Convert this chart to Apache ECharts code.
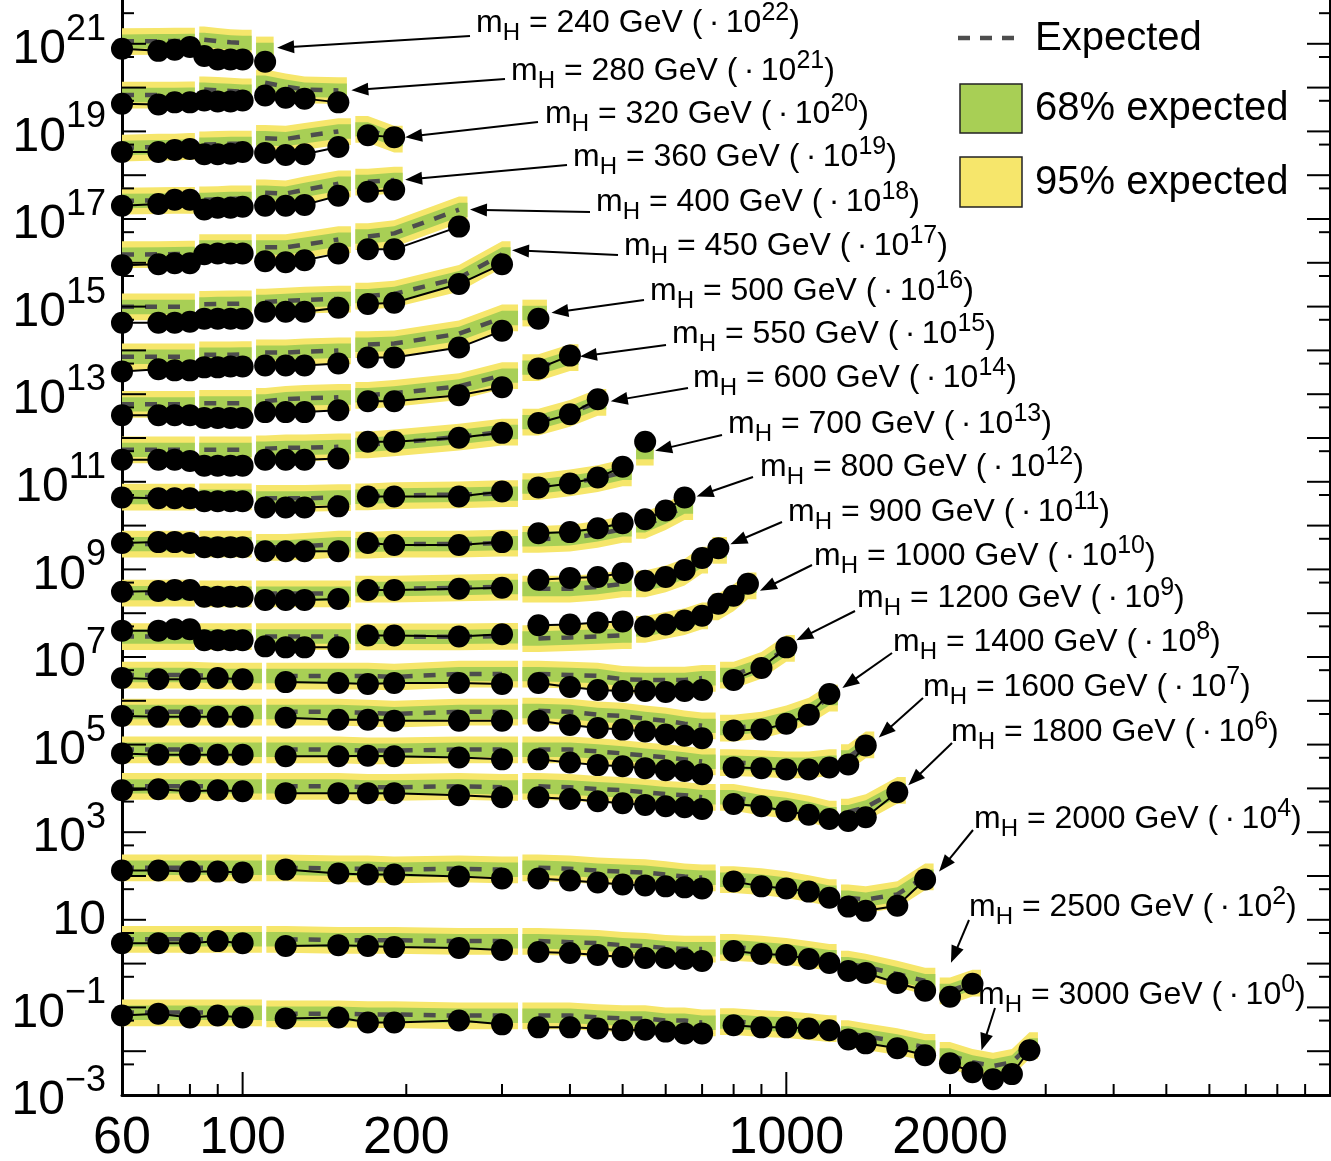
<!DOCTYPE html>
<html><head><meta charset="utf-8">
<script src="https://cdn.jsdelivr.net/npm/echarts@6/dist/echarts.min.js"></script>
<style>html,body{margin:0;padding:0;background:#fff}#c{width:1331px;height:1161px}</style>
</head><body><div id="c"></div>
<script>
// ---------------- DATA ----------------
const massPoints = [240,280,320,360,400,450,500,550,600,700,800,900,1000,1200,1400,1600,1800,2000,2500,3000];
const scaleExp   = [22,21,20,19,18,17,16,15,14,13,12,11,10,9,8,7,6,4,2,0];

// scan grids (x values, GeV), one list per analysis segment
const gridUpper = [[60,70,75,80],[85,90,95,100],[110,120,130,150],[170,190,250,300],[350,400,450,500],[550,600,650,700],[750,800,850]];
const gridLower = [[60,70,80,90,100],[120,150,170,190,250,300],[350,400,450,500,550,600,650,700],[800,900,1000,1100,1200],[1300,1400,1600,1800],[2000,2200,2400,2600,2800]];

// observed / expected limits (pb, unscaled), per segment
const obs240 = [[0.077,0.069,0.073,0.085],[0.053,0.044,0.044,0.044],[0.039]];
const exp240 = [[0.113,0.115,0.116,0.117],[0.124,0.115,0.108,0.105],[0.073]];
const obs280 = [[0.043,0.041,0.046,0.046],[0.051,0.048,0.048,0.051],[0.066,0.059,0.056,0.046]];
const exp280 = [[0.068,0.068,0.068,0.069],[0.090,0.087,0.084,0.081],[0.130,0.105,0.090,0.086]];
const obs320 = [[0.034,0.034,0.0375,0.0395],[0.030,0.030,0.031,0.034],[0.032,0.029,0.030,0.044],[0.082,0.074]];
const exp320 = [[0.042,0.044,0.044,0.046],[0.050,0.051,0.052,0.052],[0.070,0.067,0.078,0.100],[0.112,0.067]];
const obs360 = [[0.020,0.022,0.0275,0.0275],[0.0164,0.018,0.018,0.019],[0.020,0.020,0.021,0.034],[0.042,0.0465]];
const exp360 = [[0.026,0.0265,0.027,0.027],[0.0275,0.028,0.029,0.029],[0.040,0.038,0.0465,0.064],[0.0705,0.078]];
const obs400 = [[0.0088,0.0093,0.0098,0.0098],[0.0156,0.0164,0.0164,0.0164],[0.0108,0.0103,0.0114,0.0164],[0.0203,0.0203,0.067]];
const exp400 = [[0.0155,0.0156,0.0158,0.016],[0.0225,0.0225,0.0225,0.0225],[0.0225,0.0225,0.026,0.034],[0.040,0.047,0.163]];
const obs450 = [[0.0043,0.0043,0.0043,0.0045],[0.0053,0.0053,0.0053,0.0053],[0.0076,0.0076,0.0076,0.0094],[0.0115,0.0122,0.0327,0.093]];
const exp450 = [[0.0099,0.0099,0.0099,0.0099],[0.0113,0.0115,0.0116,0.0117],[0.0128,0.0135,0.0142,0.015],[0.0175,0.0195,0.0448,0.156]];
const obs500 = [[0.0033,0.0037,0.0035,0.0035],[0.0041,0.0041,0.0043,0.0043],[0.0045,0.0045,0.0045,0.0050],[0.0069,0.0069,0.0116,0.028],[0.0526]];
const exp500 = [[0.0072,0.0072,0.0072,0.0072],[0.0080,0.0080,0.0080,0.0081],[0.0089,0.0089,0.0094,0.0099],[0.0136,0.0143,0.024,0.0555],[0.072]];
const obs550 = [[0.0033,0.0033,0.0033,0.0033],[0.00285,0.00285,0.00285,0.00285],[0.0039,0.0039,0.0039,0.0043],[0.0069,0.0069,0.0095,0.0144],[0.0387,0.076]];
const exp550 = [[0.0059,0.0059,0.0059,0.0059],[0.0062,0.0062,0.0062,0.0062],[0.0069,0.0077,0.0081,0.0085],[0.0095,0.0105,0.0151,0.0268],[0.0407,0.0687]];
const obs600 = [[0.0032,0.0032,0.0032,0.0030],[0.00234,0.00234,0.00234,0.00234],[0.0032,0.0032,0.0032,0.0034],[0.0082,0.0082,0.0101,0.0131],[0.022,0.035,0.077]];
const exp600 = [[0.0054,0.0054,0.0054,0.0054],[0.0054,0.0054,0.0054,0.0054],[0.0057,0.0060,0.0060,0.0063],[0.0070,0.0078,0.0106,0.0138],[0.0232,0.0371,0.066]];
const obs700 = [[0.0044,0.0042,0.0042,0.0042],[0.0036,0.0036,0.0036,0.0036],[0.0026,0.0026,0.0026,0.00275],[0.0046,0.0046,0.0046,0.0060],[0.0074,0.0091,0.0125,0.0221],[0.082]];
const exp700 = [[0.0045,0.0045,0.0045,0.0045],[0.0046,0.0046,0.0046,0.0046],[0.0042,0.0042,0.0042,0.0044],[0.0046,0.0049,0.0051,0.0054],[0.0078,0.0096,0.0119,0.0162],[0.048]];
const obs800 = [[0.0040,0.0042,0.0042,0.0040],[0.0032,0.0032,0.0032,0.0032],[0.0026,0.0026,0.0026,0.0026],[0.0040,0.0036,0.0036,0.0042],[0.0067,0.0071,0.0087,0.0113],[0.0139,0.0222,0.0439]];
const exp800 = [[0.0038,0.0038,0.0038,0.0038],[0.0038,0.0038,0.0038,0.0038],[0.0032,0.0032,0.0034,0.0038],[0.0036,0.0038,0.0038,0.0040],[0.0049,0.0052,0.0064,0.0083],[0.0102,0.0163,0.0274]];
const obs900 = [[0.0031,0.0032,0.0034,0.0034],[0.00237,0.00237,0.00237,0.00237],[0.0020,0.0020,0.0020,0.0021],[0.0034,0.0034,0.0036,0.0038],[0.0058,0.0064,0.0067,0.0083],[0.0055,0.0067,0.0097,0.0182],[0.0306]];
const exp900 = [[0.0029,0.0029,0.0029,0.0029],[0.0028,0.0028,0.0028,0.0028],[0.0028,0.0028,0.0028,0.0028],[0.0036,0.0036,0.0038,0.0040],[0.0036,0.0036,0.0040,0.0047],[0.0047,0.0061,0.0088,0.0164],[0.0275]];
const obs1000 = [[0.0040,0.0040,0.0043,0.0043],[0.0024,0.0024,0.0024,0.0024],[0.00175,0.00166,0.00166,0.00166],[0.0031,0.0031,0.00295,0.0033],[0.0053,0.0055,0.0061,0.0065],[0.0050,0.0055,0.0068,0.0088],[0.0165,0.0251,0.0469]];
const exp1000 = [[0.00295,0.00295,0.00295,0.00295],[0.00295,0.00295,0.00295,0.00295],[0.00295,0.00295,0.00295,0.00295],[0.0029,0.0029,0.0029,0.0030],[0.00266,0.0028,0.00295,0.0031],[0.0043,0.0053,0.0065,0.0088],[0.0141,0.0226,0.0423]];
const obs1200 = [[0.0033,0.0031,0.0031,0.0033,0.0031],[0.00267,0.00254,0.00241,0.00254,0.00254,0.00241],[0.00254,0.00206,0.00176,0.00167,0.00167,0.00159,0.00167,0.00176],[0.0030,0.0056,0.0166]];
const exp1200 = [[0.0039,0.0039,0.0039,0.0037,0.0037],[0.0037,0.0037,0.0037,0.0035,0.0041,0.0041],[0.0041,0.0039,0.0037,0.0031,0.0030,0.0030,0.0030,0.0033],[0.0039,0.0065,0.0158]];
const obs1400 = [[0.0045,0.0043,0.0043,0.0043,0.0043],[0.0041,0.0037,0.0037,0.0035,0.0035,0.0035],[0.0035,0.0028,0.0024,0.0022,0.0020,0.0017,0.0016,0.0014],[0.0021,0.0022,0.0030,0.0048,0.0143]];
const exp1400 = [[0.0056,0.0056,0.0056,0.0056,0.0056],[0.0056,0.0056,0.0053,0.0050,0.0056,0.0056],[0.0059,0.0056,0.0048,0.0045,0.0039,0.0035,0.0030,0.0027],[0.0024,0.0028,0.0039,0.0059,0.0116]];
const obs1600 = [[0.0063,0.0059,0.0059,0.0059,0.0059],[0.0054,0.0054,0.0056,0.0054,0.0051,0.0046],[0.0046,0.0039,0.0034,0.0032,0.0029,0.0026,0.0025,0.0021],[0.0030,0.0029,0.0027,0.0027,0.0030],[0.0035,0.0095]];
const exp1600 = [[0.0077,0.0077,0.0077,0.0077,0.0077],[0.0077,0.0077,0.0073,0.0073,0.0077,0.0077],[0.0077,0.0077,0.0070,0.0063,0.0056,0.0051,0.0046,0.0041],[0.0039,0.0037,0.0035,0.0035,0.0039],[0.0051,0.0100]];
const obs1800 = [[0.0091,0.0096,0.0086,0.0091,0.0086],[0.0078,0.0078,0.0078,0.0078,0.0070,0.0063],[0.0063,0.0057,0.0051,0.0046,0.0042,0.0039,0.0037,0.0034],[0.0044,0.0039,0.0030,0.0025,0.0020],[0.0018,0.0022,0.0082]];
const exp1800 = [[0.0112,0.0112,0.0112,0.0112,0.0112],[0.0112,0.0112,0.0106,0.0106,0.0112,0.0106],[0.0112,0.0106,0.0096,0.0091,0.0082,0.0074,0.0070,0.0063],[0.0063,0.0049,0.0042,0.0034,0.0026],[0.0029,0.0037,0.0091]];
const obs2000 = [[0.0133,0.0133,0.0126,0.0126,0.0120],[0.0140,0.0114,0.0108,0.0108,0.0097,0.0088],[0.0088,0.0079,0.0071,0.0064,0.0061,0.0058,0.0055,0.0052],[0.0075,0.0058,0.0052,0.0044,0.0032],[0.0020,0.0016,0.0021,0.0083]];
const exp2000 = [[0.0155,0.0155,0.0155,0.0155,0.0155],[0.0155,0.0147,0.0147,0.0140,0.0147,0.0140],[0.0155,0.0147,0.0133,0.0126,0.0120,0.0108,0.0097,0.0092],[0.0083,0.0075,0.0064,0.0052,0.0042],[0.0032,0.0029,0.0038,0.0097]];
const obs2500 = [[0.0293,0.0293,0.0293,0.0326,0.0293],[0.0251,0.0264,0.0251,0.0238,0.0226,0.0204],[0.0184,0.0174,0.0157,0.0141,0.0134,0.0134,0.0127,0.0115],[0.0193,0.0165,0.0157,0.0127,0.0103],[0.0068,0.0061,0.0036,0.0024],[0.00175,0.00345]];
const exp2500 = [[0.0361,0.0361,0.0361,0.0361,0.0361],[0.0361,0.0343,0.0343,0.0343,0.0326,0.0326],[0.0326,0.0309,0.0293,0.0264,0.0251,0.0226,0.0215,0.0215],[0.0238,0.0215,0.0193,0.0165,0.0141],[0.0098,0.0084,0.0058,0.0040],[0.0024,0.0036]];
const obs3000 = [[0.065,0.072,0.059,0.065,0.059],[0.056,0.059,0.045,0.045,0.050,0.041],[0.035,0.035,0.033,0.030,0.031,0.028,0.0255,0.0255],[0.039,0.035,0.035,0.033,0.030],[0.0186,0.0151,0.0117,0.0081],[0.0053,0.0033,0.0023,0.0030,0.0105]];
const exp3000 = [[0.076,0.076,0.076,0.076,0.076],[0.072,0.072,0.069,0.069,0.065,0.065],[0.065,0.065,0.059,0.056,0.056,0.050,0.050,0.045],[0.048,0.043,0.041,0.037,0.033],[0.0255,0.0218,0.0168,0.0123],[0.0081,0.0056,0.0046,0.0056,0.0136]];

// expected-band edges relative to the expected limit
const band68 = [0.68, 1.45];
const band95 = [0.49, 2.0];

// axis ticks and labels
const xTickMajor = [100, 1000, 10000];
const xTickMinor = [60,70,80,90,200,300,400,500,600,700,800,900,2000,3000,4000,5000,6000,7000,8000,9000];
const xTickLabels = [60, 100, 200, 1000, 2000];
const yDecades = [-3,-2,-1,0,1,2,3,4,5,6,7,8,9,10,11,12,13,14,15,16,17,18,19,20,21];
const yLabelExps = [21,19,17,15,13,11,9,7,5,3,1,-1,-3];

// ---------------- LAYOUT / STYLE ----------------
const FONT = '"Liberation Sans", Arial, Helvetica, sans-serif';
const YELLOW = '#F6E66B', GREEN = '#A8CF55', EXPCOL = '#4D4D4D';
const X_MIN = 60, X_MAX = 10000, Y_MIN = 1e-3, Y_MAX = 1e22;

const obsList = [obs240,obs280,obs320,obs360,obs400,obs450,obs500,obs550,obs600,obs700,obs800,obs900,obs1000,obs1200,obs1400,obs1600,obs1800,obs2000,obs2500,obs3000];
const expList = [exp240,exp280,exp320,exp360,exp400,exp450,exp500,exp550,exp600,exp700,exp800,exp900,exp1000,exp1200,exp1400,exp1600,exp1800,exp2000,exp2500,exp3000];

// annotation layout: [labelLeftX, labelCenterY, tailX, tailY, targetPointIndexFromEnd, tipDx, tipDy]
const annotLayout = [
  [476, 22, 470, 36, 0, 12, -14],
  [511, 70, 505, 79, 0, 13, -12],
  [545, 113, 538, 122, 0, 11, 0],
  [573, 156, 567, 165, 0, 11, -10],
  [596, 201, 590, 212, 0, 11, -17],
  [624, 245, 618, 255, 0, 10, -14],
  [650, 290, 644, 300, 0, 13, -6],
  [672, 333, 666, 345, 0, 10, 1],
  [693, 377, 688, 388, 0, 13, 2],
  [728, 423, 722, 435, 0, 10, 9],
  [760, 466, 753, 477, 0, 12, -1],
  [788, 511, 782, 522, 0, 12, -4],
  [814, 555, 812, 565, 0, 12, 7],
  [857, 597, 855, 611, 0, 10, -7],
  [893, 641, 892, 653, 0, 13, -6],
  [923, 686, 923, 698, 0, 13, -8],
  [951, 731, 952, 743, 0, 11, -7],
  [974, 818, 973, 830, 0, 14, -8],
  [969, 906, 969, 920, 1, 1, -34],
  [978, 994, 995, 1008, 3, 9, -22]
];

// ---------------- BUILD ----------------
const rows = massPoints.map((m, r) => ({ mass: m, k: scaleExp[r], grid: r < 13 ? gridUpper : gridLower, obs: obsList[r], exp: expList[r], segs: [] }));
const segList = [];
const series = [];
rows.forEach((row, r) => {
  const f = Math.pow(10, row.k);
  const od = [], ed = [];
  row.obs.forEach((ov, s) => {
    const xs = row.grid[s].slice(0, ov.length);
    const so = ov.map(v => v * f), se = row.exp[s].map(v => v * f);
    if (s > 0) { od.push([xs[0], '-']); ed.push([xs[0], '-']); }
    xs.forEach((x, i) => { od.push([x, so[i]]); ed.push([x, se[i]]); });
    const seg = { r, s, xs, o: so, e: se };
    row.segs.push(seg); segList.push(seg);
  });
  row.obsData = od;
  series.push({ type: 'line', name: 'exp' + row.mass, data: ed, z: 3, symbol: 'none', connectNulls: false,
    lineStyle: { color: EXPCOL, width: 4.5, type: [12, 11] }, silent: true, animation: false });
  series.push({ type: 'line', name: 'obs' + row.mass, data: od, z: 4, symbol: 'circle', symbolSize: 22, showSymbol: true, showAllSymbol: true,
    connectNulls: false, itemStyle: { color: '#000' }, lineStyle: { color: '#000', width: 2 }, silent: true, animation: false });
});

function bandRender(params, api) {
  const seg = segList[params.dataIndex];
  const row = rows[seg.r];
  const n = seg.xs.length;
  const pts = seg.xs.map((x, i) => api.coord([x, seg.e[i]]));
  const GAP = 2.2, END = 8.5;
  let left, right;
  if (seg.s > 0) {
    const pv = row.segs[seg.s - 1];
    const pl = api.coord([pv.xs[pv.xs.length - 1], pv.e[pv.e.length - 1]])[0];
    left = (pl + pts[0][0]) / 2 + GAP;
  } else left = pts[0][0] - END;
  if (seg.s < row.segs.length - 1) {
    const nx = row.segs[seg.s + 1];
    const pr = api.coord([nx.xs[0], nx.e[0]])[0];
    right = (pts[n - 1][0] + pr) / 2 - GAP;
  } else right = pts[n - 1][0] + END;
  const cs = params.coordSys;
  left = Math.max(left, cs.x); right = Math.min(right, cs.x + cs.width);
  function poly(lo, hi) {
    const top = seg.xs.map((x, i) => api.coord([x, seg.e[i] * hi]));
    const bot = seg.xs.map((x, i) => api.coord([x, seg.e[i] * lo]));
    return [[left, top[0][1]]].concat(top, [[right, top[n - 1][1]], [right, bot[n - 1][1]]], bot.slice().reverse(), [[left, bot[0][1]]]);
  }
  return { type: 'group', children: [
    { type: 'polygon', shape: { points: poly(band95[0], band95[1]) }, style: { fill: YELLOW } },
    { type: 'polygon', shape: { points: poly(band68[0], band68[1]) }, style: { fill: GREEN } }
  ] };
}
series.unshift({ type: 'custom', name: 'bands', renderItem: bandRender, z: 1, silent: true, animation: false,
  data: segList.map((s, i) => [s.xs[0], s.e[0], i]), encode: { x: 0, y: 1 } });

const chart = echarts.init(document.getElementById('c'), null, { width: 1331, height: 1161 });
const axisLine = { show: true, onZero: false, lineStyle: { color: '#000', width: 3 } };
chart.setOption({
  animation: false,
  backgroundColor: '#fff',
  grid: { left: 122, right: 1, top: -8, bottom: 66 },
  xAxis: { type: 'log', logBase: 10, min: X_MIN, max: X_MAX, axisLine, axisTick: { show: false }, axisLabel: { show: false }, splitLine: { show: false } },
  yAxis: [
    { type: 'log', logBase: 10, min: Y_MIN, max: Y_MAX, axisLine, axisTick: { show: false }, axisLabel: { show: false }, splitLine: { show: false } },
    { type: 'log', logBase: 10, min: Y_MIN, max: Y_MAX, position: 'right', axisLine, axisTick: { show: false }, axisLabel: { show: false }, splitLine: { show: false } }
  ],
  series
});

// ---------------- ticks, labels, legend, annotations ----------------
const toPx = (x, y) => chart.convertToPixel({ xAxisIndex: 0, yAxisIndex: 0 }, [x, y]);
const G = [];
const seg = (x1, y1, x2, y2, w) => G.push({ type: 'line', silent: true, z: 100, shape: { x1, y1, x2, y2 }, style: { stroke: '#000', lineWidth: w || 2 } });
xTickMajor.forEach(v => { const p = toPx(v, Y_MIN); seg(p[0], p[1], p[0], p[1] - 23); });
xTickMinor.forEach(v => { const p = toPx(v, Y_MIN); seg(p[0], p[1], p[0], p[1] - 11); });
yDecades.forEach(e => {
  const pl = toPx(X_MIN, Math.pow(10, e)), pr = toPx(X_MAX, Math.pow(10, e));
  seg(pl[0], pl[1], pl[0] + 24, pl[1]); seg(pr[0], pr[1], pr[0] - 23, pr[1]);
  const m = 5 * Math.pow(10, e);
  if (m < Y_MAX) {
    const ql = toPx(X_MIN, m), qr = toPx(X_MAX, m);
    seg(ql[0], ql[1], ql[0] + 12, ql[1]); seg(qr[0], qr[1], qr[0] - 11, qr[1]);
  }
});
xTickLabels.forEach(v => {
  const p = toPx(v, Y_MIN);
  G.push({ type: 'text', silent: true, z: 100, x: p[0], y: 1139, style: { text: String(v), font: '52px ' + FONT, fill: '#000', align: 'center', verticalAlign: 'middle' } });
});
const yRich = {
  b: { fontSize: 48, fontFamily: FONT, lineHeight: 76, fill: '#000', color: '#000' },
  s: { fontSize: 36, fontFamily: FONT, verticalAlign: 'top', fill: '#000', color: '#000' }
};
yLabelExps.forEach(e => {
  const p = toPx(X_MIN, Math.pow(10, e));
  const txt = e === 1 ? '{b|10}' : '{b|10}{s|' + (e < 0 ? '\u2212' + (-e) : e) + '}';
  G.push({ type: 'text', silent: true, z: 100, x: 106, y: p[1] + (e === 1 ? 1 : 6), style: { text: txt, rich: yRich, fill: '#000', align: 'right', verticalAlign: 'middle' } });
});

// legend
G.push({ type: 'line', silent: true, z: 100, shape: { x1: 958, y1: 38, x2: 1022, y2: 38 }, style: { stroke: EXPCOL, lineWidth: 4.5, lineDash: [12, 10] } });
G.push({ type: 'rect', silent: true, z: 100, shape: { x: 960, y: 84, width: 62, height: 49 }, style: { fill: GREEN, stroke: '#222', lineWidth: 1.5 } });
G.push({ type: 'rect', silent: true, z: 100, shape: { x: 960, y: 157, width: 62, height: 50 }, style: { fill: YELLOW, stroke: '#222', lineWidth: 1.5 } });
[['Expected', 39], ['68% expected', 109], ['95% expected', 183]].forEach(([t, y]) => {
  G.push({ type: 'text', silent: true, z: 100, x: 1035, y, style: { text: t, font: '40px ' + FONT, fill: '#000', align: 'left', verticalAlign: 'middle' } });
});

// annotations
const aRich = {
  a: { fontSize: 32, fontFamily: FONT, lineHeight: 44, fill: '#000', color: '#000' },
  b: { fontSize: 24, fontFamily: FONT, verticalAlign: 'bottom', fill: '#000', color: '#000' },
  c: { fontSize: 25, fontFamily: FONT, verticalAlign: 'top', fill: '#000', color: '#000' }
};
rows.forEach((row, r) => {
  const [lx, ly, tx, ty, back, dx, dy] = annotLayout[r];
  G.push({ type: 'text', silent: true, z: 100, x: lx, y: ly + 1,
    style: { text: '{a|m}{b|H}{a| = ' + row.mass + ' GeV (\u2009\u00B7\u200910}{c|' + row.k + '}{a|)}', rich: aRich, fill: '#000', align: 'left', verticalAlign: 'middle' } });
  const od = row.obsData.filter(d => d[1] !== '-');
  const tgt = od[od.length - 1 - back];
  const p = toPx(tgt[0], tgt[1]);
  const hx = p[0] + dx, hy = p[1] + dy;
  const vx = hx - tx, vy = hy - ty, L = Math.hypot(vx, vy), ux = vx / L, uy = vy / L;
  const HL = 17, HW = 6.5;
  seg(tx, ty, hx - ux * HL * 0.8, hy - uy * HL * 0.8, 2);
  G.push({ type: 'polygon', silent: true, z: 100, shape: { points: [[hx, hy], [hx - ux * HL - uy * HW, hy - uy * HL + ux * HW], [hx - ux * HL + uy * HW, hy - uy * HL - ux * HW]] }, style: { fill: '#000' } });
});
chart.setOption({ graphic: { elements: G } });
</script></body></html>
